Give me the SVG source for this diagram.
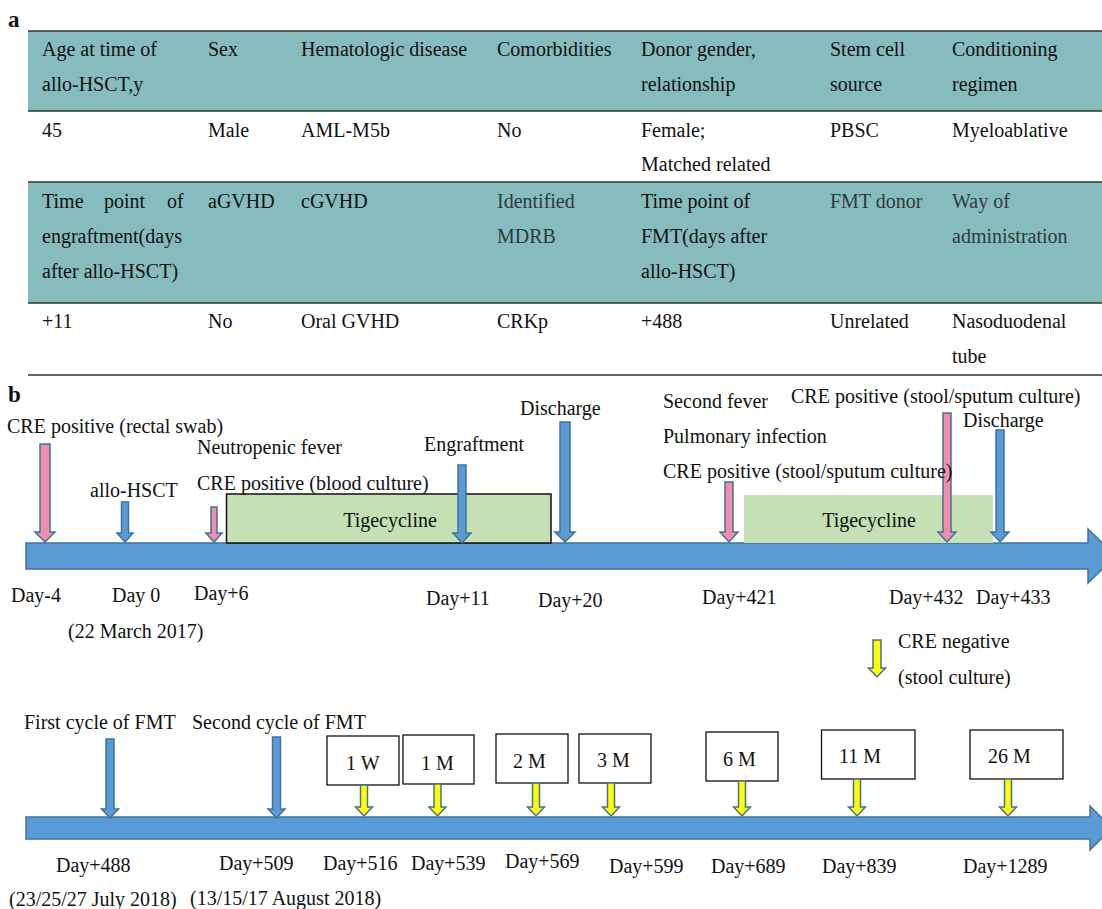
<svg xmlns="http://www.w3.org/2000/svg" width="1102" height="909" viewBox="0 0 1102 909">
<style>
text{font-family:"Liberation Serif","Times New Roman",serif;font-size:20px;fill:#111}
.lbl{font-weight:bold;font-size:23px}
.g{fill:#2f3a3a}
.teal{fill:#87BCBF}
.rule{stroke:#333;stroke-width:1.5;fill:none}
.bar{fill:#5B9BD5;stroke:#41719C;stroke-width:1.5}
.blue{fill:#5B9BD5;stroke:#41719C;stroke-width:1.5}
.pink{fill:#F08EAB;stroke:#41719C;stroke-width:1.5}
.yel{fill:#FFFF00;stroke:#41719C;stroke-width:1.5}
.box{fill:#fff;stroke:#111;stroke-width:1.3}
.tig{fill:#C5E0B4}
</style>
<rect width="1102" height="909" fill="#fff"/>

<g id="table-a">
<text class="lbl" x="8" y="27">a</text>
<rect class="teal" x="28" y="31" width="1074" height="80"/>
<rect class="teal" x="28" y="182" width="1074" height="121"/>
<line class="rule" x1="28" y1="31" x2="1102" y2="31"/>
<line class="rule" x1="28" y1="111" x2="1102" y2="111"/>
<line class="rule" x1="28" y1="182" x2="1102" y2="182"/>
<line class="rule" x1="28" y1="303" x2="1102" y2="303"/>
<line class="rule" x1="28" y1="375" x2="1102" y2="375"/>
<text x="42" y="56">Age at time of</text>
<text x="42" y="91">allo-HSCT,y</text>
<text x="208" y="56">Sex</text>
<text x="301" y="56">Hematologic disease</text>
<text x="497" y="56">Comorbidities</text>
<text x="641" y="56">Donor gender,</text>
<text x="641" y="91">relationship</text>
<text x="830" y="56">Stem cell</text>
<text x="830" y="91">source</text>
<text x="952" y="56">Conditioning</text>
<text x="952" y="91">regimen</text>
<text x="42" y="137">45</text>
<text x="208" y="137">Male</text>
<text x="301" y="137">AML-M5b</text>
<text x="497" y="137">No</text>
<text x="641" y="137">Female;</text>
<text x="641" y="171">Matched related</text>
<text x="830" y="137">PBSC</text>
<text x="952" y="137">Myeloablative</text>
<text y="208"><tspan x="42">Time</tspan> <tspan x="104">point</tspan> <tspan x="167">of</tspan></text>
<text x="42" y="243">engraftment(days</text>
<text x="42" y="278">after allo-HSCT)</text>
<text x="208" y="208">aGVHD</text>
<text x="301" y="208">cGVHD</text>
<text class="g" x="497" y="208">Identified</text>
<text class="g" x="497" y="243">MDRB</text>
<text x="641" y="208">Time point of</text>
<text x="641" y="243">FMT(days after</text>
<text x="641" y="278">allo-HSCT)</text>
<text class="g" x="830" y="208">FMT donor</text>
<text class="g" x="952" y="208">Way of</text>
<text class="g" x="952" y="243">administration</text>
<text x="42" y="328">+11</text>
<text x="208" y="328">No</text>
<text x="301" y="328">Oral GVHD</text>
<text x="497" y="328">CRKp</text>
<text x="641" y="328">+488</text>
<text x="830" y="328">Unrelated</text>
<text x="952" y="328">Nasoduodenal</text>
<text x="952" y="363">tube</text>
</g>

<text class="lbl" x="8" y="402">b</text>

<g id="timeline-1">
<path class="bar" d="M26,543 H1088 V529 L1116,556 L1088,583 V569 H26 Z"/>
<rect id="tig-1" class="tig" x="226.5" y="494" width="324.5" height="49" stroke="#111" stroke-width="1.5"/>
<text x="390" y="527" text-anchor="middle">Tigecycline</text>
<rect id="tig-2" class="tig" x="744" y="495" width="249" height="48"/>
<text x="869" y="527" text-anchor="middle">Tigecycline</text>
</g>

<g id="connectors-1">
<path class="pink" d="M40,444 H50 V532 H55 L45,542 L35,532 H40 Z"/>
<path class="blue" d="M121.5,502 H128.5 V533 H133 L125,542 L117,533 H121.5 Z"/>
<path class="pink" d="M211,507 H217 V533 H222 L214,542 L206,533 H211 Z"/>
<path class="blue" d="M458,465 H466 V533 H471 L462,543 L453,533 H458 Z"/>
<path class="blue" d="M560,422 H570 V532 H575 L565,542 L555,532 H560 Z"/>
<path class="pink" d="M725,482 H733 V532 H738 L729,542 L720,532 H725 Z"/>
<path class="pink" d="M943,413 H951 V532 H956 L947,542 L938,532 H943 Z"/>
<path class="blue" d="M996,430 H1004 V532 H1009 L1000,542 L991,532 H996 Z"/>
<path class="yel" d="M873,640 H881 V668 H885.5 L877,677 L868.5,668 H873 Z"/>
</g>

<g id="labels-1">
<text x="7" y="433">CRE positive (rectal swab)</text>
<text x="520" y="415">Discharge</text>
<text x="197" y="454">Neutropenic fever</text>
<text x="424" y="451">Engraftment</text>
<text x="90" y="497">allo-HSCT</text>
<text x="197" y="490">CRE positive (blood culture)</text>
<text x="663" y="408">Second fever</text>
<text x="791" y="403">CRE positive (stool/sputum culture)</text>
<text x="963" y="427">Discharge</text>
<text x="663" y="443">Pulmonary infection</text>
<text x="663" y="478">CRE positive (stool/sputum culture)</text>
<text x="11" y="602">Day-4</text>
<text x="112" y="602">Day 0</text>
<text x="194" y="600">Day+6</text>
<text x="426" y="605">Day+11</text>
<text x="538" y="607">Day+20</text>
<text x="68" y="638">(22 March 2017)</text>
<text x="702" y="604">Day+421</text>
<text x="889" y="604">Day+432</text>
<text x="976" y="604">Day+433</text>
<text x="898" y="648">CRE negative</text>
<text x="898" y="684">(stool culture)</text>
</g>

<g id="timeline-2">
<path class="bar" d="M26,817 H1090 V806 L1112,828 L1090,850 V839 H26 Z"/>
</g>

<g id="box-1w"><rect class="box" x="327" y="736" width="72" height="49"/><text x="346" y="770">1 W</text></g>
<g id="box-1m"><rect class="box" x="403" y="735" width="71" height="49"/><text x="421" y="770">1 M</text></g>
<g id="box-2m"><rect class="box" x="496" y="734" width="72" height="49"/><text x="513" y="768">2 M</text></g>
<g id="box-3m"><rect class="box" x="579" y="734" width="72" height="49"/><text x="597" y="767">3 M</text></g>
<g id="box-6m"><rect class="box" x="706" y="732" width="72" height="49"/><text x="723" y="766">6 M</text></g>
<g id="box-11m"><rect class="box" x="821.5" y="730" width="93.5" height="49"/><text x="839" y="763">11 M</text></g>
<g id="box-26m"><rect class="box" x="970" y="730" width="93" height="49"/><text x="988" y="763">26 M</text></g>

<g id="connectors-2">
<path class="blue" d="M106,739 H114 V809 H118.5 L110,818 L101.5,809 H106 Z"/>
<path class="blue" d="M272.5,737 H280.5 V809 H285 L276.5,818 L268,809 H272.5 Z"/>
<path class="yel" d="M360.5,785 H367.5 V807 H372.5 L364,816 L355.5,807 H360.5 Z"/>
<path class="yel" d="M434,784 H441 V807 H446 L437.5,816 L429,807 H434 Z"/>
<path class="yel" d="M532.5,783 H539.5 V807 H544.5 L536,816 L527.5,807 H532.5 Z"/>
<path class="yel" d="M607.5,783 H614.5 V807 H619.5 L611,816 L602.5,807 H607.5 Z"/>
<path class="yel" d="M738.5,781 H745.5 V807 H750.5 L742,816 L733.5,807 H738.5 Z"/>
<path class="yel" d="M853.5,779 H860.5 V807 H865.5 L857,816 L848.5,807 H853.5 Z"/>
<path class="yel" d="M1004.5,779 H1011.5 V807 H1016.5 L1008,816 L999.5,807 H1004.5 Z"/>
</g>

<g id="labels-2">
<text x="24" y="729">First cycle of FMT</text>
<text x="192" y="729">Second cycle of FMT</text>
<text x="56" y="872">Day+488</text>
<text x="219" y="870">Day+509</text>
<text x="323" y="870">Day+516</text>
<text x="411" y="870">Day+539</text>
<text x="505" y="868">Day+569</text>
<text x="609" y="873">Day+599</text>
<text x="711" y="873">Day+689</text>
<text x="822" y="873">Day+839</text>
<text x="963" y="873">Day+1289</text>
<text x="9" y="906">(23/25/27 July 2018)</text>
<text x="190" y="905">(13/15/17 August 2018)</text>
</g>
</svg>
